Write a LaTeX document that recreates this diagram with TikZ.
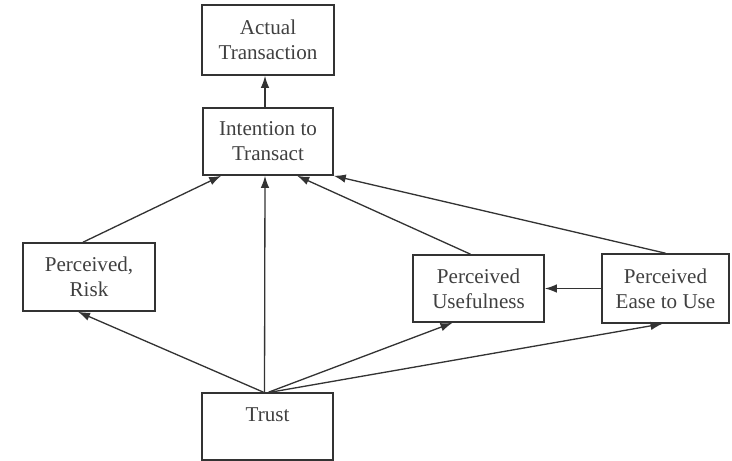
\documentclass[tikz,border=0pt]{standalone}
\usepackage{fontspec}
\setmainfont{Liberation Serif}
\usepackage{tikz}
\usetikzlibrary{calc,arrows.meta}

\begin{document}
\begin{tikzpicture}[x=0.02cm,y=-0.02cm,>={Latex[length=2.4mm,width=1.7mm]},
  box/.style={draw=black!80,line width=0.9pt,align=center,text=black!75,
    font=\fontsize{12}{14.2}\selectfont,inner sep=2pt},
  link/.style={->,draw=black!80,line width=0.75pt}]
\useasboundingbox (0,0) rectangle (732,460);

\node[box,minimum width=132*0.02cm,minimum height=70*0.02cm] (actual) at (268,40) {Actual\\Transaction};
\node[box,minimum width=130*0.02cm,minimum height=67*0.02cm] (intent) at (268,141.5) {Intention to\\Transact};
\node[box,minimum width=132*0.02cm,minimum height=68*0.02cm] (risk) at (89,277) {Perceived,\\Risk};
\node[box,minimum width=131*0.02cm,minimum height=67*0.02cm] (useful) at (478.5,288.5) {Perceived\\Usefulness};
\node[box,minimum width=127*0.02cm,minimum height=69*0.02cm] (ease) at (665.5,288.5) {Perceived\\Ease to Use};
\node[box,minimum width=131*0.02cm,minimum height=67*0.02cm,text depth=13.5pt] (trust) at (267.5,426.5) {Trust};

% upper part
\draw[link] ($(intent.north)+(-3,0)$) -- ($(actual.south)+(-3,0)$);
\draw[link] ($(risk.north)+(-6,0)$) -- ($(intent.south west)+(19,0)$);
\draw[link] ($(useful.north)+(-8,0)$) -- ($(intent.south west)+(95,0)$);
\draw[link] (ease.north) -- (intent.south east);
\draw[link] (ease.west) -- (useful.east);

% from trust
\draw[link] ($(trust.north)+(-3,0)$) -- ($(intent.south)+(-3,0)$);
\draw[link] ($(trust.north)+(-4,0)$) -- ($(risk.south)+(-11,0)$);
\draw[link] ($(trust.north)+(1,0)$) -- ($(useful.south)+(-26,0)$);
\draw[link] ($(trust.north)+(3,0)$) -- ($(ease.south)+(-3,0)$);

\end{tikzpicture}
\end{document}
